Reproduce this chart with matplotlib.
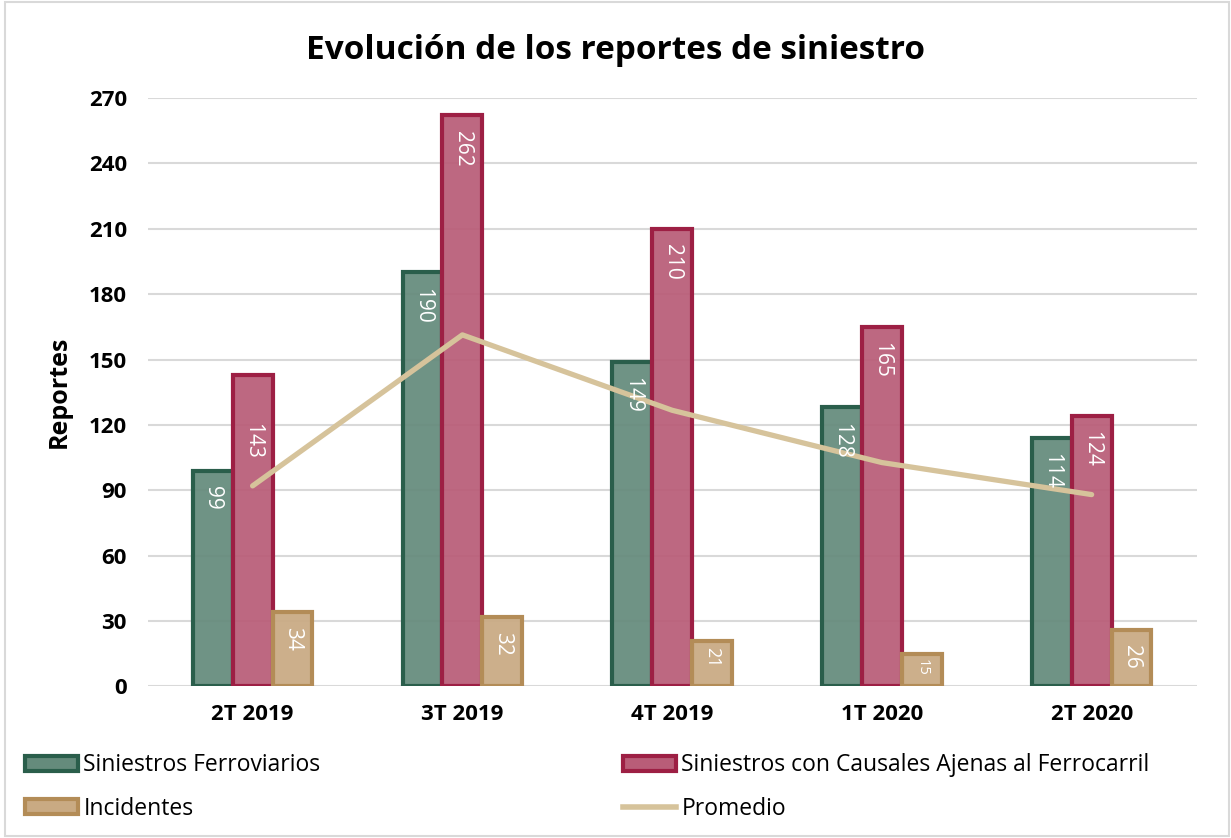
import numpy as np
import matplotlib.pyplot as plt
from matplotlib.patches import Patch
from matplotlib.lines import Line2D

plt.rcParams['font.family'] = ['Open Sans', 'DejaVu Sans']
plt.rcParams['text.color'] = 'black'

periodos = ['2T 2019', '3T 2019', '4T 2019', '1T 2020', '2T 2020']
ferroviarios = [99, 190, 149, 128, 114]
ajenas = [143, 262, 210, 165, 124]
incidentes = [34, 32, 21, 15, 26]
promedio = [92.0, 161.3, 126.7, 102.7, 88.0]

c_green, e_green = '#658b7c', '#2a5e4b'
c_red, e_red = '#b95d78', '#9d1f44'
c_tan, e_tan = '#c9aa83', '#b38c57'
c_line = '#d6c39b'

fig = plt.figure(figsize=(12.31, 8.38), dpi=100)
ax = fig.add_axes([0.120, 0.181, 0.852, 0.702])

x = np.arange(len(periodos))
w = 0.19
series = [(ferroviarios, c_green, e_green, -w),
          (ajenas, c_red, e_red, 0),
          (incidentes, c_tan, e_tan, w)]
for k, (vals, fc, ec, off) in enumerate(series):
    bars = ax.bar(x + off, vals, w, color=fc, edgecolor=ec, linewidth=3, zorder=3)
    for b in bars:
        b.set_facecolor(fc + 'ee')
    for i, (xi, v) in enumerate(zip(x + off, vals)):
        drop, fs = 7, 15
        if k == 1 and i == 0:
            drop = 22  # label pushed down below the average line
        if v < 25:
            drop, fs = 3, 13
        if v < 18:
            drop, fs = 2.5, 10.5
        ax.text(xi, v - drop, str(v), rotation=-90, ha='center', va='top',
                color='white', fontsize=fs, zorder=5)

ax.plot(x, promedio, color=c_line, linewidth=3.8, solid_capstyle='round', zorder=4)

ax.set_ylim(0, 270)
ax.set_xlim(-0.5, 4.5)
ax.set_yticks(range(0, 271, 30))
ax.set_xticks(x)
ax.set_xticklabels(periodos)
ax.tick_params(axis='y', length=0, labelsize=16, pad=15, labelcolor='black')
ax.tick_params(axis='x', length=0, labelsize=16, pad=13, labelcolor='black')
for lab in ax.get_xticklabels() + ax.get_yticklabels():
    lab.set_fontweight('bold')
ax.yaxis.grid(True, color='#d9d9d9', linewidth=1.5, zorder=0)
for s in ax.spines.values():
    s.set_visible(False)
ax.set_ylabel('Reportes', fontsize=18, fontweight='bold', labelpad=12, color='black')

fig.text(0.5, 0.94, 'Evolución de los reportes de siniestro', ha='center', va='center',
         fontsize=24, fontweight='bold', color='black')

handles = [Patch(facecolor=c_green, edgecolor=e_green, linewidth=3),
           Patch(facecolor=c_tan, edgecolor=e_tan, linewidth=3),
           Patch(facecolor=c_red, edgecolor=e_red, linewidth=3),
           Line2D([0], [0], color=c_line, linewidth=4)]
labels = ['Siniestros Ferroviarios', 'Incidentes',
          'Siniestros con Causales Ajenas al Ferrocarril', 'Promedio']
fig.legend(handles, labels, ncol=2, loc='upper left', bbox_to_anchor=(0.0128, 0.112),
           frameon=False, fontsize=16.5, handlelength=2.3, handleheight=0.65,
           handletextpad=0.25, columnspacing=13.2, labelspacing=0.85, borderaxespad=0)

fig.patches.append(plt.Rectangle((0.004, 0.002), 0.994, 0.996, transform=fig.transFigure,
                                 fill=False, edgecolor='#d9d9d9', linewidth=1.5))

fig.savefig('out.png', dpi=100)
